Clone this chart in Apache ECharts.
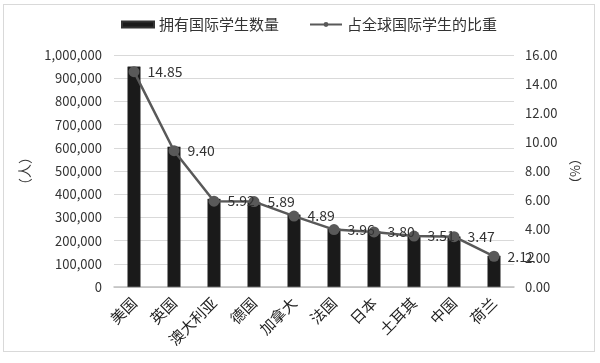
<!DOCTYPE html>
<html><head><meta charset="utf-8">
<script src="https://cdn.jsdelivr.net/npm/echarts@6/dist/echarts.min.js"></script>
<style>
html,body{margin:0;padding:0;background:#fff;}
#frame{position:absolute;left:3px;top:4px;width:592px;height:348px;border:1.5px solid #d9d9d9;box-sizing:border-box;}
#c{position:absolute;left:0;top:0;width:600px;height:363px;}
</style></head><body>
<div id="frame"></div>
<div id="c"></div>
<script>
var categories = ['美国','英国','澳大利亚','德国','加拿大','法国','日本','土耳其','中国','荷兰'];
var studentCounts = [950000, 605000, 380000, 365000, 312000, 252000, 240000, 222000, 218000, 135000];
var sharePercent = [14.85, 9.40, 5.92, 5.89, 4.89, 3.96, 3.80, 3.51, 3.47, 2.12];
var barName = '拥有国际学生数量';
var lineName = '占全球国际学生的比重';

var FONT = '"Noto Sans CJK SC", "Noto Sans", sans-serif';
var chart = echarts.init(document.getElementById('c'), null, {renderer:'canvas'});
chart.setOption({
  animation:false,
  textStyle:{fontFamily:FONT},
  legend:{
    top:12, left:116, itemGap:30, itemWidth:32, itemHeight:6,
    textStyle:{fontSize:15, color:'#333', fontFamily:FONT},
    data:[{name:barName, icon:'rect'}, {name:lineName}]
  },
  grid:{left:114, right:86, top:55, bottom:76},
  xAxis:{
    type:'category', data:categories,
    axisLine:{lineStyle:{color:'#bfbfbf', width:1.5}},
    axisTick:{show:false},
    axisLabel:{rotate:45, fontSize:15, color:'#222', margin:13, fontFamily:FONT}
  },
  yAxis:[{
    type:'value', min:0, max:1000000, interval:100000,
    name:'（人）', nameLocation:'middle', nameRotate:90, nameGap:82,
    nameTextStyle:{fontSize:14, color:'#333'},
    axisLine:{show:false}, axisTick:{show:false},
    splitLine:{lineStyle:{color:'#d9d9d9', width:1.2}},
    axisLabel:{fontSize:13, color:'#333', margin:12,
      formatter:function(v){return v.toLocaleString('en-US');}}
  },{
    type:'value', min:0, max:16, interval:2,
    name:'（%）', nameLocation:'middle', nameRotate:90, nameGap:55,
    nameTextStyle:{fontSize:13, color:'#333'},
    axisLine:{show:false}, axisTick:{show:false}, splitLine:{show:false},
    axisLabel:{fontSize:13, color:'#333', margin:11,
      formatter:function(v){return v.toFixed(2);}}
  }],
  series:[{
    name:barName, type:'bar', data:studentCounts, barWidth:13,
    itemStyle:{color:'#1a1a1a', borderColor:'#333', borderWidth:0.5}
  },{
    name:lineName, type:'line', yAxisIndex:1, data:sharePercent,
    symbol:'circle', symbolSize:11,
    lineStyle:{color:'#595959', width:2.5},
    itemStyle:{color:'#595959'},
    label:{show:true, position:'right', distance:8, fontSize:14, color:'#333',
      formatter:function(p){return p.value.toFixed(2);}}
  }]
});
</script>
</body></html>
